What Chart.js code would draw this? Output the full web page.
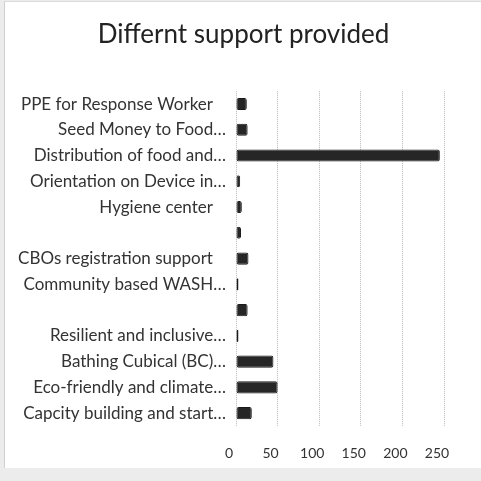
<!DOCTYPE html>
<html>
<head>
<meta charset="utf-8">
<script src="https://cdn.jsdelivr.net/npm/chart.js@4/dist/chart.umd.min.js"></script>
<style>
  html, body { margin: 0; padding: 0; background: #ececec; }
  #wrap { position: absolute; left: 4px; top: 1px; width: 477px; height: 466px; background: #fff;
          border-left: 1px solid #cfcfcf; border-top: 1px solid #dcdcdc; }
  canvas { display: block; }
</style>
</head>
<body>
<div id="wrap"><canvas id="supportChart"></canvas></div>
<script>
// full labels carry trailing blanks in the source sheet, truncated ones end with an ellipsis
const categories = [
    'PPE for Response Worker   ', 'Seed Money to Food…', 'Distribution of food and…',
    'Orientation on Device in…', 'Hygiene center   ', '', 'CBOs registration support   ',
    'Community based WASH…', '', 'Resilient and inclusive…', 'Bathing Cubical (BC)…',
    'Eco-friendly and climate…', 'Capcity building and start…'
];
const supportCounts = [13, 14, 245, 5, 7, 6, 15, 3, 14, 3, 45, 50, 19];
const xTicks = [0, 50, 100, 150, 200, 250];

const fontFamily = 'Lato, "Open Sans", sans-serif';

// long category labels run past the padded left edge; let them use the whole left side
const unclipLabels = {
    id: 'unclipLabels',
    afterLayout(chart) {
        chart.scales.y.left = 0;
    }
};

const ctx = document.getElementById('supportChart').getContext('2d');
new Chart(ctx, {
    type: 'bar',
    data: {
        labels: categories,
        datasets: [{
            label: 'Support',
            data: supportCounts,
            backgroundColor: '#262626',
            borderColor: '#1a1a1a',
            borderWidth: 1,
            borderRadius: 2,
            borderSkipped: false,
            barPercentage: 0.52,
            categoryPercentage: 0.9
        }]
    },
    plugins: [unclipLabels],
    options: {
        indexAxis: 'y',
        responsive: true,
        maintainAspectRatio: false,
        animation: false,
        layout: { padding: { top: 0, right: 38, bottom: 6, left: 38 } },
        plugins: {
            legend: { display: false },
            tooltip: { enabled: false },
            title: {
                display: true,
                text: 'Differnt support provided',
                color: '#222',
                font: { family: fontFamily, size: 26, weight: 'normal' },
                padding: { top: 17, bottom: 41 }
            }
        },
        scales: {
            x: {
                min: 0,
                max: 250,
                afterBuildTicks: axis => { axis.ticks = xTicks.map(v => ({ value: v })); },
                afterFit: axis => { axis.height = 36; },
                grid: { color: '#b8b8b8', borderDash: [1, 1], drawTicks: false },
                border: { display: false, dash: [1, 1] },
                ticks: { color: '#333', padding: 19, labelOffset: -7, font: { family: fontFamily, size: 14 } }
            },
            y: {
                grid: { display: false },
                border: { display: false },
                afterFit: axis => { axis.width = 193; },
                ticks: { color: '#333', padding: 2, font: { family: fontFamily, size: 17 } }
            }
        }
    }
});
</script>
</body>
</html>
